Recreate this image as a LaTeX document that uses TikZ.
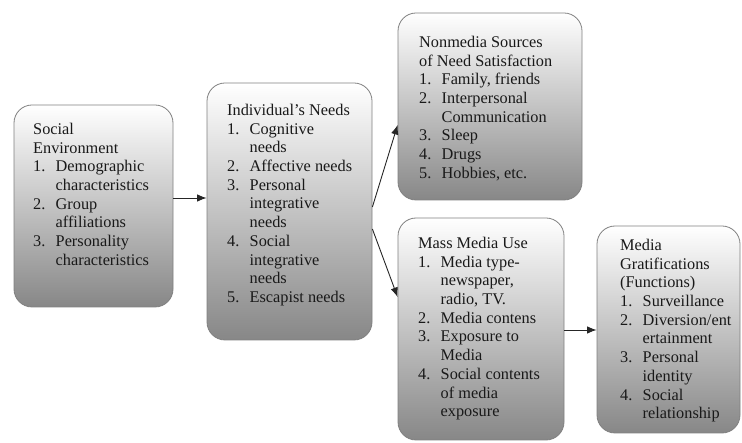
\documentclass[tikz,border=0pt]{standalone}
\usepackage{fontspec}
\setmainfont{Liberation Serif}
\usetikzlibrary{arrows.meta}
\newcommand{\mynum}[1]{\makebox[22.5pt][l]{#1}}
\newcommand{\myind}{\hspace*{22.5pt}}
\tikzset{
  box/.style={draw=black!50, line width=0.8pt, rounded corners=18pt,
    top color=white, middle color=black!8, bottom color=black!47,
    inner sep=0pt, minimum width=#1},
  txt/.style={anchor=base west, inner sep=0pt, align=left,
    font=\fontsize{16.3}{18.7}\selectfont, text=black!90},
  arr/.style={-{Latex[length=9.5pt,width=7.5pt]}, line width=0.9pt, black!85}
}
\begin{document}
\begin{tikzpicture}[x=1pt,y=-1pt]
\useasboundingbox (0,0) rectangle (742,443);
% boxes
\node[box=159pt, minimum height=202pt] (b1) at (93.5,206) {};
\node[box=165pt, minimum height=257pt] (b2) at (289.5,211.5) {};
\node[box=184pt, minimum height=187pt] (b3) at (490,106.5) {};
\node[box=166pt, minimum height=222pt] (b4) at (481,329) {};
\node[box=143pt, minimum height=207pt] (b5) at (668.5,329.5) {};
% texts
\node[txt] (t1) at (33,134.5) {\begin{tabular}[t]{@{}l@{}}
Social\\
Environment\\
\mynum{1.}Demographic\\
\myind characteristics\\
\mynum{2.}Group\\
\myind affiliations\\
\mynum{3.}Personality\\
\myind characteristics
\end{tabular}};
\node[txt] (t2) at (227,115.5) {\begin{tabular}[t]{@{}l@{}}
Individual’s Needs\\
\mynum{1.}Cognitive\\
\myind needs\\
\mynum{2.}Affective needs\\
\mynum{3.}Personal\\
\myind integrative\\
\myind needs\\
\mynum{4.}Social\\
\myind integrative\\
\myind needs\\
\mynum{5.}Escapist needs
\end{tabular}};
\node[txt] (t3) at (419,47.5) {\begin{tabular}[t]{@{}l@{}}
Nonmedia Sources\\
of Need Satisfaction\\
\mynum{1.}Family, friends\\
\mynum{2.}Interpersonal\\
\myind Communication\\
\mynum{3.}Sleep\\
\mynum{4.}Drugs\\
\mynum{5.}Hobbies, etc.
\end{tabular}};
\node[txt] (t4) at (418,248.5) {\begin{tabular}[t]{@{}l@{}}
Mass Media Use\\
\mynum{1.}Media type-\\
\myind newspaper,\\
\myind radio, TV.\\
\mynum{2.}Media contens\\
\mynum{3.}Exposure to\\
\myind Media\\
\mynum{4.}Social contents\\
\myind of media\\
\myind exposure
\end{tabular}};
\node[txt] (t5) at (620,250.5) {\begin{tabular}[t]{@{}l@{}}
Media\\
Gratifications\\
(Functions)\\
\mynum{1.}Surveillance\\
\mynum{2.}Diversion/ent\\
\myind ertainment\\
\mynum{3.}Personal\\
\myind identity\\
\mynum{4.}Social\\
\myind relationship
\end{tabular}};
% connectors
\draw[arr] ([yshift=8pt]b1.east) -- ([yshift=8pt]b1.east -| b2.west);
\draw[arr] ([yshift=4.5pt]b2.east) -- ([yshift=-18.5pt]b3.west);
\draw[arr] ([yshift=-17.5pt]b2.east) -- ([yshift=32pt]b4.west);
\draw[arr] ([yshift=-1pt]b4.east) -- ([yshift=-1pt]b4.east -| b5.west);
\end{tikzpicture}
\end{document}
